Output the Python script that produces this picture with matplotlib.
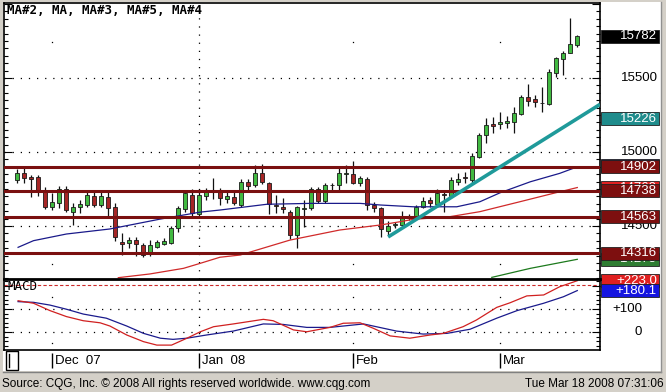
import matplotlib
matplotlib.use('Agg')
import numpy as np
import matplotlib.pyplot as plt
import matplotlib.transforms as mtrans
from matplotlib.patches import Rectangle
from matplotlib.lines import Line2D
from matplotlib.ticker import MultipleLocator

# daily bars (EUR/USD x 10000)
opens = [14811, 14858, 14829, 14829, 14730, 14628, 14655, 14750, 14595, 14628,
         14642, 14703, 14642, 14696, 14628, 14392, 14385, 14405, 14372, 14318,
         14360, 14378, 14387, 14486, 14615, 14709, 14581, 14703, 14733, 14738,
         14682, 14698, 14642, 14797, 14777, 14858, 14793, 14642, 14630, 14597,
         14439, 14617, 14622, 14750, 14671, 14777, 14777, 14851, 14851, 14793,
         14818, 14642, 14622, 14468, 14507, 14507, 14568, 14563, 14630, 14676,
         14649, 14716, 14703, 14799, 14828, 14811, 14964, 15115, 15189, 15189,
         15194, 15205, 15257, 15370, 15358, 15334, 15324, 15536, 15626, 15667,
         15723]
highs = [14885, 14905, 14845, 14845, 14764, 14723, 14770, 14770, 14655, 14676,
         14730, 14743, 14730, 14730, 14655, 14453, 14426, 14426, 14385, 14405,
         14405, 14417, 14500, 14635, 14743, 14750, 14750, 14757, 14824, 14757,
         14730, 14730, 14818, 14818, 14912, 14919, 14800, 14709, 14689, 14608,
         14635, 14676, 14766, 14766, 14793, 14791, 14905, 14912, 14941, 14838,
         14831, 14664, 14630, 14536, 14529, 14603, 14581, 14642, 14696, 14698,
         14750, 14743, 14833, 14858, 14867, 14995, 15130, 15228, 15234, 15272,
         15243, 15302, 15385, 15459, 15385, 15437, 15559, 15644, 15684, 15903,
         15791]
lows = [14791, 14791, 14696, 14703, 14615, 14608, 14622, 14595, 14507, 14588,
        14628, 14628, 14628, 14561, 14399, 14304, 14351, 14297, 14291, 14297,
        14353, 14372, 14378, 14459, 14595, 14561, 14568, 14676, 14682, 14642,
        14655, 14642, 14628, 14743, 14764, 14784, 14581, 14588, 14588, 14412,
        14351, 14493, 14608, 14655, 14655, 14730, 14730, 14791, 14784, 14770,
        14608, 14597, 14426, 14439, 14486, 14495, 14541, 14541, 14622, 14630,
        14630, 14597, 14698, 14777, 14791, 14784, 14957, 15063, 15130, 15153,
        15160, 15130, 15250, 15311, 15302, 15272, 15318, 15509, 15520, 15667,
        15707]
closes = [14860, 14824, 14816, 14738, 14628, 14662, 14750, 14608, 14628, 14649,
          14709, 14642, 14703, 14622, 14426, 14378, 14405, 14378, 14304, 14372,
          14394, 14401, 14486, 14622, 14723, 14588, 14709, 14743, 14730, 14689,
          14703, 14655, 14797, 14770, 14860, 14797, 14649, 14635, 14615, 14439,
          14628, 14624, 14750, 14671, 14777, 14774, 14858, 14856, 14793, 14824,
          14642, 14622, 14480, 14500, 14514, 14568, 14564, 14630, 14669, 14653,
          14723, 14711, 14811, 14818, 14824, 14973, 15115, 15182, 15176, 15205,
          15207, 15261, 15374, 15347, 15340, 15331, 15543, 15633, 15667, 15728,
          15782]

# moving averages (bar position, value)
ma_blue_x = [0.2, 2.4, 7.1, 13.3, 20.5, 26.2, 29.0, 35.7, 41.9, 49.0, 51.9,
             56.6, 62.8, 66.1, 69.0, 73.3, 77.5, 80.0]
ma_blue_y = [14356, 14401, 14446, 14480, 14547, 14594, 14608, 14647, 14653,
             14653, 14642, 14630, 14630, 14664, 14725, 14799, 14856, 14900]
ma_red_x = [14.5, 19.0, 23.8, 26.2, 29.0, 31.9, 39.0, 46.1, 51.9, 54.7, 56.6,
            61.8, 66.1, 71.8, 76.6, 80.0]
ma_red_y = [14151, 14176, 14214, 14248, 14289, 14304, 14405, 14473, 14507,
            14529, 14545, 14563, 14597, 14664, 14721, 14760]
ma_green_x = [67.8, 73.3, 80.0]
ma_green_y = [14153, 14214, 14275]

levels = [14902, 14738, 14563, 14316]
trend_x = [53, 80]
trend_y = [14426, 15226]

macd_x = [0.2, 2.4, 4.75, 7.1, 9.5, 11.9, 13.3, 15.7, 18.1, 20.0, 22.1, 24.3,
          26.2, 28.1, 30.9, 35.2, 36.6, 39.5, 41.4, 44.7, 46.6, 49.0, 50.9,
          53.3, 56.1, 59.0, 60.9, 63.7, 65.6, 68.5, 70.4, 72.8, 75.2, 77.5, 80.0]
macd_y = [136, 125, 93, 67, 49, 40, 26, -13, -42, -57, -57, -27, 1, 23, 35, 55,
          49, 9, 1, 20, 38, 40, 16, -17, -27, -13, -6, 23, 52, 107, 127, 157,
          161, 197, 223]
signal_x = [0.2, 2.4, 4.75, 7.1, 9.5, 12.8, 15.7, 18.1, 20.5, 22.3, 24.3, 27.1,
            30.9, 35.2, 38.0, 41.4, 44.7, 49.5, 54.2, 58.0, 61.4, 64.7, 68.5,
            71.4, 75.2, 78.0, 80.0]
signal_y = [132, 129, 117, 99, 78, 60, 26, -6, -27, -32, -27, -13, 4, 35, 33,
            20, 20, 35, 4, -9, -6, 12, 60, 93, 125, 153, 180.1]
macd_level = 205

month_idx = [5, 26, 48, 69]
month_labels = ['Dec  07', 'Jan  08', 'Feb', 'Mar']

W, H = 666, 392


def px(x0, y0, x1, y1):
    return [x0 / W, 1 - y1 / H, (x1 - x0) / W, (y1 - y0) / H]


fig = plt.figure(figsize=(W / 100, H / 100), dpi=100)
fig.patch.set_facecolor('#d4d0c8')
fig.add_artist(Rectangle((3 / W, 1 - 371 / H), 658 / W, 369 / H,
                         transform=fig.transFigure, facecolor='white',
                         edgecolor='none', zorder=-1))

xl = (-1.81, 83.24)
dot = (0, (1, 5.5))
lab_font = 'Liberation Sans'

# ---------------- price panel ----------------
ax = fig.add_axes(px(4, 3, 600, 279))
x = np.arange(len(opens))
o = np.array(opens); c = np.array(closes)
up = c >= o
cols = np.where(up, '#41b941', '#a62626')
ax.vlines(x, lows, highs, color='#111111', lw=0.9, zorder=2)
ax.bar(x, np.maximum(np.abs(c - o), 3), bottom=np.minimum(o, c), width=0.62,
       color=cols, edgecolor='#1a1a1a', linewidth=0.6, zorder=3)

ax.plot(ma_blue_x, ma_blue_y, color='#1a1a8a', lw=0.9, zorder=4)
ax.plot(ma_red_x, ma_red_y, color='#d02a2a', lw=0.9, zorder=4)
ax.plot(ma_green_x, ma_green_y, color='#1d7a1d', lw=0.9, zorder=4)

for lv in levels:
    ax.axhline(lv, color='#7a1010', lw=2.2, zorder=4.5)

slope = (trend_y[1] - trend_y[0]) / (trend_x[1] - trend_x[0])
ax.plot([trend_x[0], xl[1]], [trend_y[0], trend_y[0] + slope * (xl[1] - trend_x[0])],
        color='#1f9a9a', lw=2.6, solid_capstyle='butt', zorder=5)

for g in [14500, 15000, 15500]:
    ax.axhline(g, color='black', lw=0.9, ls=dot, zorder=1)
ax.axvline(month_idx[1], color='black', lw=0.9, ls=dot, zorder=1)
for m in [month_idx[0], month_idx[2], month_idx[3]]:
    ax.plot([m, m], [15743, 14243], 's', ms=0.9, mew=0, color='black', zorder=1)

ax.set_xlim(*xl)
ax.set_ylim(14142, 16007)
ax.set_xticks([])
ax.yaxis.set_major_locator(MultipleLocator(500))
ax.yaxis.set_minor_locator(MultipleLocator(50))
ax.tick_params(axis='y', which='both', direction='in', left=True, right=True,
               labelleft=False, labelright=False, width=0.8)
ax.tick_params(axis='y', which='major', length=6)
ax.tick_params(axis='y', which='minor', length=3)
for s in ['left', 'right', 'top']:
    ax.spines[s].set_linewidth(1.2)
ax.spines['bottom'].set_visible(False)

# ---------------- MACD panel ----------------
ax2 = fig.add_axes(px(4, 280, 600, 350))
ax2.plot(signal_x, signal_y, color='#1a1a8c', lw=0.9, zorder=3)
ax2.plot(macd_x, macd_y, color='#d02020', lw=0.9, zorder=3)
ax2.axhline(macd_level, color='#cc2a2a', lw=0.8, ls=(0, (3, 2)), zorder=2)
for g in [0, 100]:
    ax2.axhline(g, color='black', lw=0.9, ls=dot, zorder=1)
ax2.axvline(month_idx[1], color='black', lw=0.9, ls=dot, zorder=1)
for m in [month_idx[0], month_idx[2], month_idx[3]]:
    ax2.plot([m, m], [152, -48], 's', ms=0.9, mew=0, color='black', zorder=1)
ax2.set_xlim(*xl)
ax2.set_ylim(-78.3, 226.1)
ax2.set_xticks([])
ax2.yaxis.set_major_locator(MultipleLocator(100))
ax2.yaxis.set_minor_locator(MultipleLocator(20))
ax2.tick_params(axis='y', which='both', direction='in', left=True, right=True,
                labelleft=False, labelright=False, width=0.8)
ax2.tick_params(axis='y', which='major', length=6)
ax2.tick_params(axis='y', which='minor', length=3)
ax2.spines['top'].set_visible(False)
for s in ['left', 'right', 'bottom']:
    ax2.spines[s].set_linewidth(1.2)

# ---------------- right-hand value labels ----------------
def plain(axis, value, text, right):
    tr = mtrans.blended_transform_factory(fig.transFigure, axis.transData)
    axis.text(right / W, value, text, transform=tr, ha='right', va='center',
              fontsize=9.5, family=lab_font, color='black', clip_on=False, zorder=6)


def tag(axis, value, text, face, h, z):
    tr = mtrans.blended_transform_factory(fig.transFigure, axis.transData)
    axis.add_patch(Rectangle((601 / W, value - h / 2), 58 / W, h, transform=tr,
                             facecolor=face, edgecolor='#202020', lw=0.6,
                             clip_on=False, zorder=z))
    if text:
        axis.text(657 / W, value, text, transform=tr, ha='right', va='center',
                  fontsize=9.5, family=lab_font, color='white', clip_on=False,
                  zorder=z + 0.1)


hp = 13 / 0.148
for v in [15500, 15000, 14500]:
    plain(ax, v, str(v), 658)
tag(ax, closes[-1], str(closes[-1]), '#000000', hp, 7)
tag(ax, trend_y[1], str(trend_y[1]), '#1f8c8c', hp, 7.2)
tag(ax, ma_blue_y[-1] + 10, '', '#1a1a8a', hp, 7.4)   # fully covered in the original
tag(ax, levels[0], str(levels[0]), '#7d0f0f', hp, 7.6)
tag(ax, ma_red_y[-1], str(ma_red_y[-1]), '#e02222', hp, 7.8)
tag(ax, levels[1], str(levels[1]), '#7d0f0f', hp, 8.0)
tag(ax, levels[2], str(levels[2]), '#7d0f0f', hp, 8.2)
tag(ax, ma_green_y[-1], str(ma_green_y[-1]), '#2e7d32', hp, 8.4)
tag(ax, levels[3], str(levels[3]), '#7d0f0f', hp, 8.6)

hm = 13 / 0.23
plain(ax2, 100, '+100', 642)
plain(ax2, 0, '0', 642)
tag(ax2, macd_y[-1], '+%.1f' % macd_y[-1], '#e02020', hm, 7)
tag(ax2, signal_y[-1], '+%.1f' % signal_y[-1], '#1515e0', hm, 7.2)

# ---------------- time strip ----------------
ax3 = fig.add_axes(px(4, 350, 600, 372))
ax3.set_xlim(*xl)
ax3.set_ylim(0, 1)
ax3.axis('off')
ax3.vlines(month_idx, 0.18, 0.86, color='black', lw=1)
for m, t in zip(month_idx, month_labels):
    ax3.text(m + 0.45, 0.5, t, ha='left', va='center', fontsize=9.5,
             family=lab_font, color='black')

fig.add_artist(Rectangle((6 / W, 1 - 370 / H), 12 / W, 19 / H,
                         transform=fig.transFigure, facecolor='none',
                         edgecolor='black', lw=1, zorder=5))
fig.add_artist(Line2D([8.5 / W, 8.5 / W], [1 - 367 / H, 1 - 354 / H],
                      transform=fig.transFigure, color='black', lw=1, zorder=5))

# panel separator and frame lines
fig.add_artist(Line2D([4 / W, 600 / W], [1 - 279 / H] * 2,
                      transform=fig.transFigure, color='black', lw=2, zorder=10))
fig.add_artist(Line2D([3 / W, 661 / W], [1 - 371.5 / H] * 2,
                      transform=fig.transFigure, color='#808080', lw=1, zorder=10))
fig.add_artist(Line2D([661 / W, 661 / W], [1 - 371.5 / H, 1 - 2 / H],
                      transform=fig.transFigure, color='#909090', lw=1, zorder=10))

# headings and footer
fig.text(7 / W, 1 - 11 / H, 'MA#2, MA, MA#3, MA#5, MA#4', ha='left', va='center',
         fontsize=9, family='DejaVu Sans Mono', fontweight='bold', zorder=11)
fig.text(7 / W, 1 - 287 / H, 'MACD', ha='left', va='center', fontsize=9,
         family='DejaVu Sans Mono', zorder=11)
fig.text(2 / W, 1 - 384 / H,
         'Source: CQG, Inc. \u00a9 2008 All rights reserved worldwide. www.cqg.com',
         ha='left', va='center', fontsize=8.5, family=lab_font)
fig.text(664 / W, 1 - 384 / H, 'Tue Mar 18 2008 07:31:06', ha='right',
         va='center', fontsize=8.5, family=lab_font)

fig.savefig('out.png', dpi=100, facecolor=fig.get_facecolor())
